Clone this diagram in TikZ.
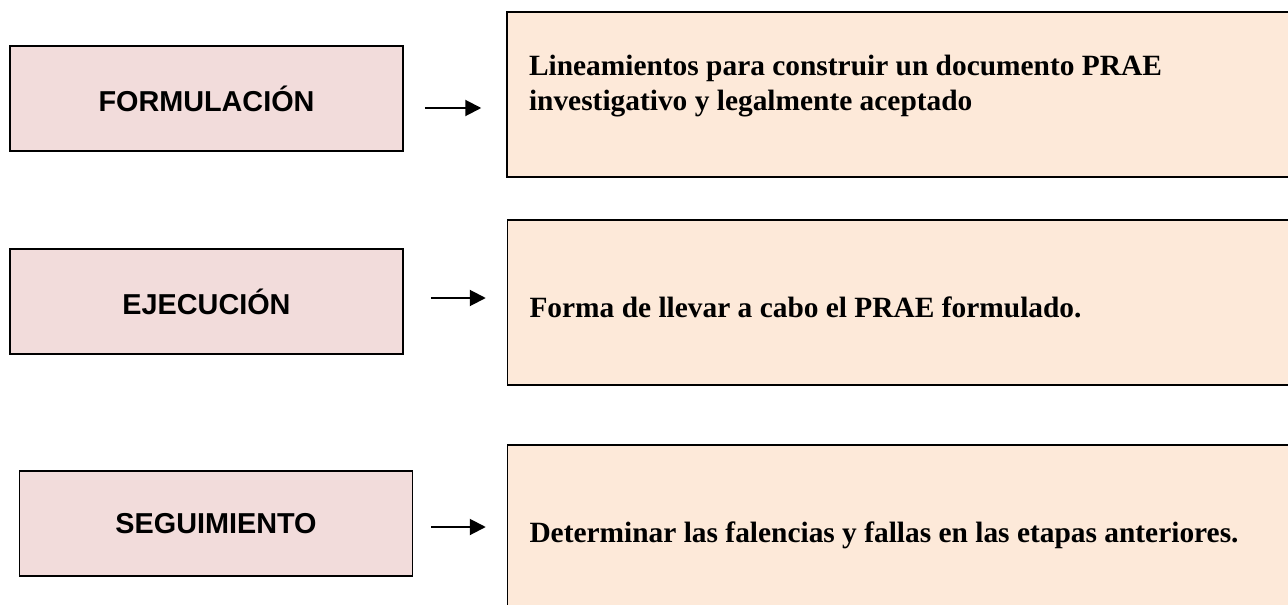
\documentclass[tikz,border=0pt]{standalone}
\usepackage{fontspec}
\setmainfont{Liberation Serif}
\setsansfont{Liberation Sans}
\usetikzlibrary{arrows.meta}
\definecolor{etapafill}{HTML}{F2DCDB}
\definecolor{descfill}{HTML}{FDE9D9}

\begin{document}
\begin{tikzpicture}[x=0.5pt, y=-0.5pt, line width=0.75pt,
      every node/.append style={draw=black, inner sep=0pt}]
	  \tikzstyle{etapa} = [fill=etapafill, minimum width=196.5pt, minimum height=52.5pt,
	    font=\sffamily\bfseries\fontsize{14.4}{17}\selectfont]
	  \tikzstyle{desc} = [fill=descfill, text width=379.5pt, inner xsep=11pt, align=flush left,
	    font=\bfseries\fontsize{14.7}{17.5}\selectfont,
	    execute at begin node={\spaceskip=0pt\xspaceskip=0pt}]
	  \tikzstyle{flecha} = [-{Triangle[length=8pt,width=8pt]}, line width=1pt]
	  \useasboundingbox (0,0) rectangle (1288,604);
	  \clip (0,0) rectangle (1288,604);
	  % etapas
	  \node (etapa_1) [etapa] at (206.5,98.5) {FORMULACIÓN};
	  \node (etapa_2) [etapa] at (206.5,301.5) {EJECUCIÓN};
	  \node (etapa_3) [etapa] at (216,523.5) {SEGUIMIENTO};
	  % descripciones
	  \node (desc_1) [desc, minimum height=82.5pt, text depth=29pt] at (908.5,94.5)
	    {Lineamientos para construir un documento PRAE\\ investigativo y legalmente aceptado};
	  \node (desc_2) [desc, minimum height=82.5pt, text height=18.5pt, text depth=4pt] at (909,302.5)
	    {Forma de llevar a cabo el PRAE formulado.};
	  \node (desc_3) [desc, minimum height=90pt] at (909,535)
	    {Determinar las falencias y fallas en las etapas anteriores.};
	  % flechas
	  \draw[flecha, shorten <=10.5pt, shorten >=12.5pt] ([yshift=-4.75pt]etapa_1.east) -- ([yshift=-4.75pt]etapa_1.east -| desc_1.west);
	  \draw[flecha, shorten <=13.5pt, shorten >=10.5pt] ([yshift=1.75pt]etapa_2.east) -- ([yshift=1.75pt]etapa_2.east -| desc_2.west);
	  \draw[flecha, shorten <=9pt, shorten >=10.5pt] ([yshift=-1.75pt]etapa_3.east) -- ([yshift=-1.75pt]etapa_3.east -| desc_3.west);
\end{tikzpicture}
\end{document}
